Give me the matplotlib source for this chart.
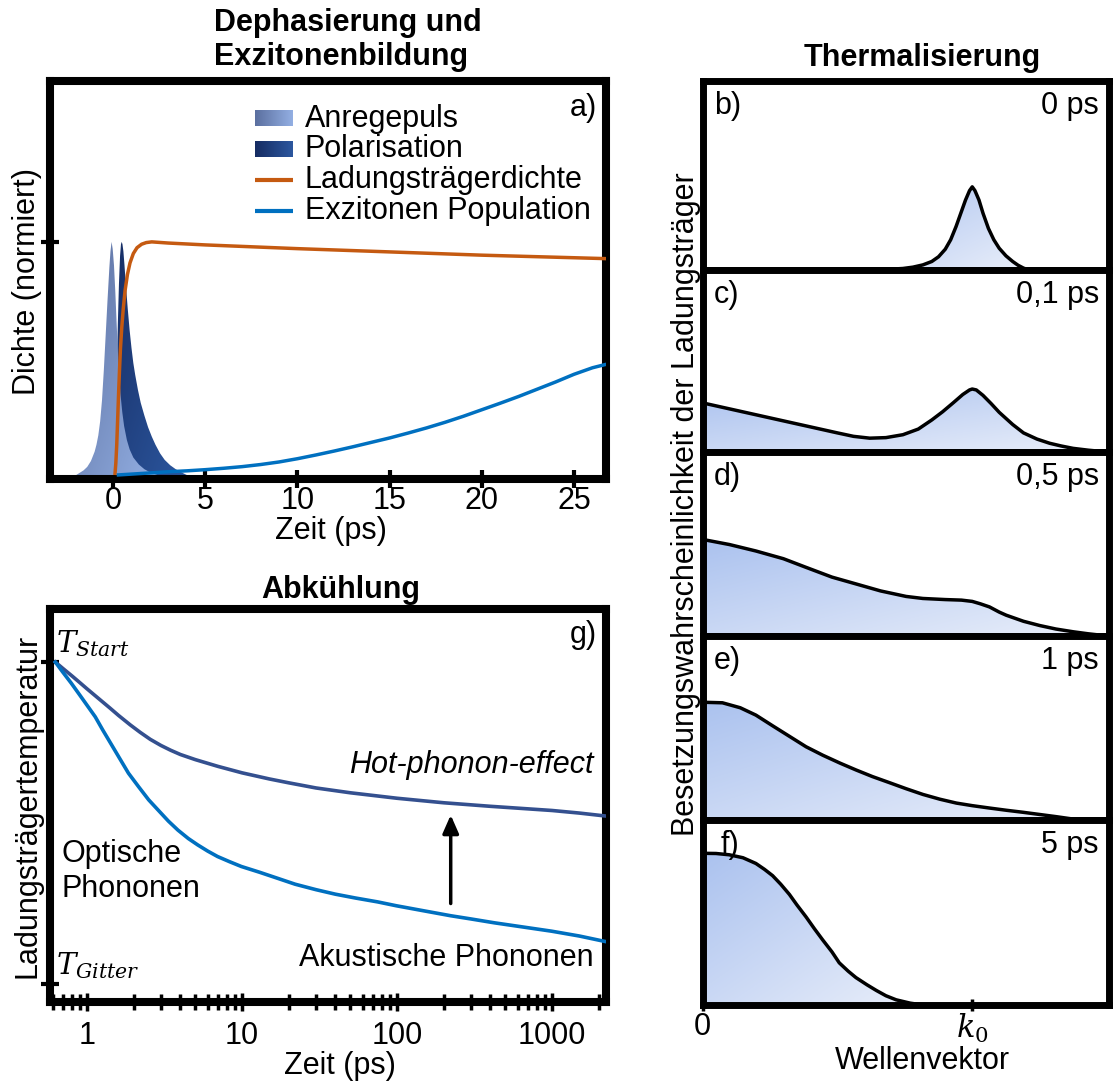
import numpy as np
import matplotlib
matplotlib.use("Agg")
import matplotlib.pyplot as plt
from matplotlib.colors import LinearSegmentedColormap
from matplotlib.patches import Polygon
from matplotlib.ticker import LogLocator, NullFormatter

plt.rcParams["font.family"] = ["Liberation Sans", "DejaVu Sans"]
plt.rcParams["mathtext.fontset"] = "dejavuserif"
plt.rcParams["font.size"] = 22

# ---------------- data ----------------
# a) excitation pulse, polarisation, carrier density, exciton population (normalised)
t_pulse = [-2.0, -1.8, -1.6, -1.4, -1.2, -1.0, -0.9, -0.8, -0.7, -0.6, -0.5, -0.4, -0.3,
           -0.2, -0.14, -0.08, -0.02, 0.05, 0.12, 0.2, 0.3, 0.4, 0.5, 0.6, 0.75, 0.9, 1.1,
           1.4, 1.7, 2.0, 2.4]
n_pulse = [0.0, 0.01, 0.02, 0.035, 0.06, 0.10, 0.13, 0.17, 0.23, 0.32, 0.45, 0.60, 0.75,
           0.89, 0.96, 1.0, 0.97, 0.90, 0.79, 0.64, 0.47, 0.35, 0.27, 0.21, 0.15, 0.11, 0.075,
           0.045, 0.025, 0.012, 0.0]

t_pol = [-0.3, -0.1, 0.0, 0.08, 0.14, 0.2, 0.26, 0.32, 0.38, 0.43, 0.47, 0.51, 0.56, 0.62,
         0.7, 0.8, 0.9, 1.0, 1.1, 1.2, 1.35, 1.5, 1.7, 1.9, 2.1, 2.3, 2.55, 2.8, 3.1, 3.4,
         3.7, 4.0]
n_pol = [0.0, 0.02, 0.06, 0.15, 0.27, 0.45, 0.65, 0.82, 0.94, 0.99, 1.0, 0.99, 0.96, 0.9,
         0.81, 0.71, 0.62, 0.545, 0.48, 0.43, 0.365, 0.31, 0.255, 0.205, 0.165, 0.13, 0.093,
         0.065, 0.042, 0.025, 0.012, 0.0]

t_carrier = [0.1, 0.15, 0.2, 0.25, 0.3, 0.35, 0.4, 0.47, 0.55, 0.65, 0.78, 0.92, 1.1, 1.3,
             1.55, 1.8, 2.1, 3.0, 5.0, 10.0, 15.0, 20.0, 25.0, 26.8]
n_carrier = [0.0, 0.05, 0.13, 0.24, 0.35, 0.45, 0.54, 0.63, 0.71, 0.79, 0.86, 0.91, 0.95,
             0.975, 0.99, 0.997, 1.0, 0.995, 0.987, 0.971, 0.957, 0.943, 0.932, 0.928]

t_exciton = [0.2, 1, 2, 3, 4, 5, 6, 7, 8, 9, 10, 11, 12, 13, 14, 15, 16, 17, 18, 19, 20,
             21, 22, 23, 24, 25, 26, 26.8]
n_exciton = [0.0, 0.004, 0.009, 0.014, 0.018, 0.023, 0.029, 0.036, 0.045, 0.056, 0.07,
             0.086, 0.103, 0.121, 0.14, 0.159, 0.18, 0.202, 0.226, 0.252, 0.28, 0.308,
             0.337, 0.368, 0.399, 0.432, 0.46, 0.476]

time_ticks = [0, 5, 10, 15, 20, 25]

# g) carrier temperature (0 = lattice, 1 = start)
t_hot = [0.625, 0.7, 0.8, 0.9, 1.0, 1.2, 1.4, 1.6, 1.9, 2.2, 2.56, 3.0, 3.47, 4.0, 5.0,
         7.0, 10, 15, 20, 30, 50, 100, 200, 400, 1000, 1500, 2200]
T_hot_phonon = [1.0, 0.980, 0.957, 0.936, 0.917, 0.885, 0.858, 0.834, 0.805, 0.782, 0.760,
                0.741, 0.726, 0.713, 0.697, 0.676, 0.656, 0.637, 0.625, 0.609, 0.594, 0.577,
                0.563, 0.552, 0.539, 0.531, 0.522]
t_ac = [0.625, 0.7, 0.79, 0.9, 1.0, 1.13, 1.26, 1.42, 1.6, 1.85, 2.15, 2.5, 2.88, 3.35,
        3.86, 4.5, 5.18, 6.0, 6.95, 8.3, 9.9, 13, 16.8, 22, 30, 40, 54, 75, 99, 150, 222,
        300, 425, 650, 994, 1500, 2200]
T_acoustic = [1.0, 0.968, 0.935, 0.897, 0.866, 0.83, 0.79, 0.748, 0.706, 0.655, 0.613,
              0.572, 0.54, 0.506, 0.478, 0.452, 0.432, 0.413, 0.396, 0.38, 0.365, 0.347,
              0.329, 0.31, 0.293, 0.279, 0.267, 0.255, 0.243, 0.227, 0.212, 0.202, 0.19,
              0.177, 0.164, 0.149, 0.132]
log_ticks = [1, 10, 100, 1000]
log_tick_labels = ["1", "10", "100", "1000"]

# b)-f) occupation vs. wave vector (k in units of k0)
k_b = [0.0, 0.6, 0.68, 0.743, 0.78, 0.817, 0.85, 0.875, 0.9, 0.92, 0.94, 0.96, 0.975,
       0.99, 1.0, 1.01, 1.025, 1.04, 1.06, 1.08, 1.1, 1.125, 1.15, 1.17, 1.19, 1.21, 1.507]
f_b = [0.0, 0.0, 0.003, 0.008, 0.015, 0.027, 0.045, 0.07, 0.11, 0.16, 0.23, 0.31, 0.37,
       0.42, 0.44, 0.42, 0.37, 0.3, 0.22, 0.16, 0.115, 0.075, 0.045, 0.025, 0.01, 0.0, 0.0]

k_c = [0.0, 0.1, 0.2, 0.3, 0.4, 0.5, 0.56, 0.62, 0.68, 0.743, 0.80, 0.85, 0.89, 0.93,
       0.965, 0.99, 1.0, 1.015, 1.04, 1.07, 1.10, 1.15, 1.19, 1.24, 1.287, 1.33, 1.374,
       1.43, 1.473, 1.507]
f_c = [0.27, 0.237, 0.204, 0.171, 0.138, 0.105, 0.086, 0.076, 0.079, 0.095, 0.126, 0.176,
       0.221, 0.271, 0.316, 0.341, 0.346, 0.341, 0.311, 0.266, 0.218, 0.151, 0.105, 0.071,
       0.048, 0.033, 0.02, 0.01, 0.004, 0.0]

k_d = [0.0, 0.1, 0.198, 0.3, 0.384, 0.48, 0.569, 0.66, 0.755, 0.817, 0.9, 0.96, 1.0,
       1.03, 1.064, 1.1, 1.126, 1.19, 1.25, 1.31, 1.374, 1.43, 1.473, 1.507]
f_d = [0.525, 0.497, 0.462, 0.42, 0.373, 0.32, 0.283, 0.245, 0.215, 0.204, 0.198, 0.195,
       0.188, 0.175, 0.158, 0.13, 0.113, 0.08, 0.057, 0.038, 0.023, 0.012, 0.005, 0.0]

k_e = [0.0, 0.074, 0.14, 0.198, 0.26, 0.322, 0.384, 0.446, 0.51, 0.569, 0.63, 0.693,
       0.755, 0.817, 0.88, 0.941, 1.0, 1.064, 1.126, 1.188, 1.25, 1.312, 1.374, 1.43]
f_e = [0.64, 0.637, 0.61, 0.57, 0.512, 0.455, 0.398, 0.352, 0.309, 0.272, 0.236, 0.203,
       0.17, 0.139, 0.113, 0.092, 0.078, 0.065, 0.053, 0.042, 0.03, 0.018, 0.005, 0.0]

k_f = [0.0, 0.05, 0.099, 0.15, 0.198, 0.23, 0.26, 0.29, 0.322, 0.35, 0.384, 0.415, 0.446,
       0.48, 0.507, 0.54, 0.569, 0.61, 0.644, 0.68, 0.718, 0.77, 0.817]
f_f = [0.82, 0.819, 0.812, 0.796, 0.765, 0.733, 0.699, 0.653, 0.598, 0.541, 0.476, 0.412,
       0.351, 0.287, 0.228, 0.183, 0.148, 0.109, 0.079, 0.05, 0.028, 0.01, 0.0]

panels = [
    ("b)", "0 ps", k_b, f_b),
    ("c)", "0,1 ps", k_c, f_c),
    ("d)", "0,5 ps", k_d, f_d),
    ("e)", "1 ps", k_e, f_e),
    ("f)", "5 ps", k_f, f_f),
]
k_ticks = [0, 1]
k_tick_labels = ["0", r"$k_0$"]

# ---------------- helpers ----------------
W, H = 1113, 1082
fig = plt.figure(figsize=(W / 100, H / 100), dpi=100)


def box(l, t, r, b):
    return [l / W, 1 - b / H, (r - l) / W, (b - t) / H]


def gradient_cmap(c0, c1):
    return LinearSegmentedColormap.from_list("grad", [c0, c1])


def gradient_fill(ax, x, y, c0, c1, zorder):
    """Area under (x, y) filled with a diagonal colour gradient (dark at top-left)."""
    x = np.asarray(x, float)
    y = np.asarray(y, float)
    verts = np.column_stack([np.r_[x, x[::-1]], np.r_[y, np.zeros_like(y)]])
    poly = Polygon(verts, closed=True, fc="none", ec="none")
    ax.add_patch(poly)
    nz = np.nonzero(y > 0)[0]
    x0, x1 = x[max(nz[0] - 1, 0)], x[min(nz[-1] + 1, len(x) - 1)]
    u = np.linspace(0, 1, 256)
    gx, gy = np.meshgrid(u, u)
    g = (gx + (1 - gy)) / 2
    im = ax.imshow(g, extent=(x0, x1, 0, y.max()), origin="lower",
                   cmap=gradient_cmap(c0, c1), aspect="auto", zorder=zorder,
                   interpolation="bilinear", vmin=0, vmax=1)
    im.set_clip_path(poly)
    return im


def heavy_spines(ax, lw):
    for s in ax.spines.values():
        s.set_linewidth(lw)
        s.set_capstyle("projecting")


PULSE = ("#5b6f9f", "#93afe3")
POL = ("#162c62", "#2c579f")
ORANGE = "#c55a11"
BLUE = "#0070c0"
DARKBLUE = "#34508f"

# ---------------- a) ----------------
axa = fig.add_axes(box(50, 81, 605.5, 479))
gradient_fill(axa, t_pol, n_pol, *POL, zorder=1)
gradient_fill(axa, t_pulse, n_pulse, *PULSE, zorder=2)
axa.plot(t_carrier, n_carrier, color=ORANGE, lw=2.5, zorder=4, solid_capstyle="butt")
axa.plot(t_exciton, n_exciton, color=BLUE, lw=2.5, zorder=4, solid_capstyle="butt")
axa.set_xticks(time_ticks)
axa.set_yticks([1])
axa.set_yticklabels([])
axa.tick_params(axis="both", direction="inout", length=13, width=3, pad=-1.5)
heavy_spines(axa, 5.8)
axa.set_xlabel("Zeit (ps)", va="center")
axa.xaxis.set_label_coords(0.506, -0.130)
axa.set_ylabel("Dichte (normiert)", va="center")
axa.yaxis.set_label_coords(-0.041, 0.495)
axa.text(0.985, 0.932, "a)", transform=axa.transAxes, ha="right", va="center")

# legend with gradient swatches
leg_rows = [0.905, 0.829, 0.751, 0.673]
hx0, hx1, tx = 0.369, 0.437, 0.459
u = np.linspace(0, 1, 128).reshape(1, -1)
for row, cols in zip(leg_rows[:2], (PULSE, POL)):
    axa.imshow(u, extent=(hx0, hx1, row - 0.019, row + 0.019), transform=axa.transAxes,
               cmap=gradient_cmap(*cols), aspect="auto", zorder=5, interpolation="bilinear")
for row, col in zip(leg_rows[2:], (ORANGE, BLUE)):
    axa.plot([hx0, hx1], [row, row], transform=axa.transAxes, color=col, lw=3,
             solid_capstyle="butt", zorder=5)
for row, lab in zip(leg_rows, ["Anregepuls", "Polarisation", "Ladungsträgerdichte",
                               "Exzitonen Population"]):
    axa.text(tx, row, lab, transform=axa.transAxes, ha="left", va="center")
axa.set_xlim(-3.42, 26.71)
axa.set_ylim(-0.017, 1.69)

fig.text(214 / W, 1 - 40 / H, "Dephasierung und\nExzitonenbildung", ha="left", va="center",
         fontweight="bold", linespacing=1.2)

# ---------------- g) ----------------
axg = fig.add_axes(box(50, 609, 605.5, 1002))
axg.plot(t_hot, T_hot_phonon, color=DARKBLUE, lw=2.6, zorder=3)
axg.plot(t_ac, T_acoustic, color=BLUE, lw=2.6, zorder=3)
axg.set_xscale("log")
axg.set_xlim(0.577, 2213)
axg.set_ylim(-0.056, 1.165)
axg.set_xticks(log_ticks)
axg.set_xticklabels(log_tick_labels)
axg.xaxis.set_minor_locator(LogLocator(base=10, subs=np.arange(2, 10)))
axg.xaxis.set_minor_formatter(NullFormatter())
axg.set_yticks([0, 1])
axg.set_yticklabels([])
axg.tick_params(axis="x", which="major", direction="inout", length=13, width=2.5, pad=7)
axg.tick_params(axis="x", which="minor", direction="inout", length=11, width=2.5)
axg.tick_params(axis="y", direction="inout", length=13, width=3)
heavy_spines(axg, 5.8)
axg.annotate("", xy=(222, 0.525), xytext=(222, 0.25),
             arrowprops=dict(arrowstyle="-|>,head_length=0.5,head_width=0.22",
                             color="black", lw=2.5, mutation_scale=22, shrinkA=0, shrinkB=0))
axg.set_xlabel("Zeit (ps)", va="center")
axg.xaxis.set_label_coords(0.522, -0.162)
axg.set_ylabel("Ladungsträgertemperatur", va="center")
axg.yaxis.set_label_coords(-0.041, 0.499)
axg.text(0.985, 0.934, "g)", transform=axg.transAxes, ha="right", va="center")
axg.text(0.978, 0.603, "Hot-phonon-effect", transform=axg.transAxes, ha="right",
         va="center", fontstyle="italic")
axg.text(0.02, 0.332, "Optische\nPhononen", transform=axg.transAxes, ha="left",
         va="center", linespacing=1.25)
axg.text(0.978, 0.112, "Akustische Phononen", transform=axg.transAxes, ha="right",
         va="center")
axg.text(0.011, 0.912, r"$T_{Start}$", transform=axg.transAxes, ha="left", va="center",
         fontsize=21)
axg.text(0.011, 0.092, r"$T_{Gitter}$", transform=axg.transAxes, ha="left", va="center",
         fontsize=21)
fig.text(341 / W, 1 - 590 / H, "Abkühlung", ha="center", va="center", fontweight="bold")

# ---------------- b)-f) ----------------
edges = [81, 270, 452, 636, 820, 1005]
FILL = ("#abc2ef", "#eaeffa")
for i, (lab, tlab, k, f) in enumerate(panels):
    top, bot = edges[i], edges[i + 1]
    ax = fig.add_axes(box(702.5, top, 1109, bot))
    gradient_fill(ax, k, f, *FILL, zorder=1)
    ax.plot(k, f, color="black", lw=2.5, zorder=3)
    ax.set_xlim(0, 1.507)
    ax.set_ylim(0, 1)
    ax.set_yticks([])
    heavy_spines(ax, 5.0)
    h = bot - top
    lx = 0.045 if lab == "f)" else 0.028
    ax.text(lx, 1 - 25 / h, lab, transform=ax.transAxes, ha="left", va="center")
    ax.text(0.975, 1 - 25 / h, tlab, transform=ax.transAxes, ha="right", va="center")
    if i < len(panels) - 1:
        ax.set_xticks([])
    else:
        ax.set_xticks(k_ticks)
        ax.set_xticklabels(k_tick_labels)
        ax.tick_params(axis="x", direction="inout", length=9, width=2.5, pad=0.5)
        ax.set_xlabel("Wellenvektor", va="center")
        ax.xaxis.set_label_coords(0.54, -0.305)

fig.text(686 / W, 1 - 504 / H, "Besetzungswahrscheinlichkeit der Ladungsträger",
         rotation=90, ha="center", va="center")
fig.text(922 / W, 1 - 58 / H, "Thermalisierung", ha="center", va="center", fontweight="bold")

fig.savefig("out.png", dpi=100)
